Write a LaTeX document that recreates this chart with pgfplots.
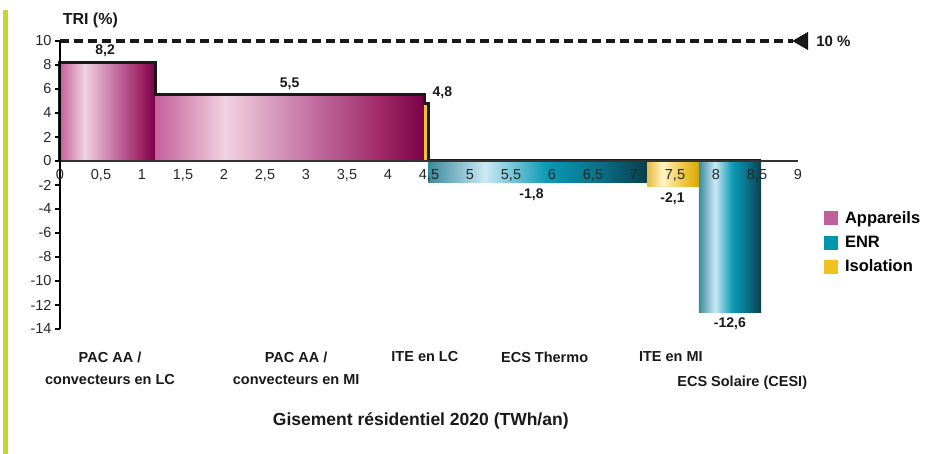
\documentclass[border=0pt]{standalone}
\usepackage{pgfplots}
\pgfplotsset{compat=1.18}
\usepackage{fontspec}
\setmainfont{Liberation Sans}

\definecolor{appA}{HTML}{C4609A}
\definecolor{appL}{HTML}{F2D2E0}
\definecolor{appM}{HTML}{C06A9E}
\definecolor{appN}{HTML}{A02868}
\definecolor{appD}{HTML}{7A0048}
\definecolor{enrA}{HTML}{3A8A9C}
\definecolor{enrL}{HTML}{CCE9F5}
\definecolor{enrM}{HTML}{0A9AB4}
\definecolor{enrN}{HTML}{0A7088}
\definecolor{enrD}{HTML}{0A3E4C}
\definecolor{isoA}{HTML}{E6BC3C}
\definecolor{isoL}{HTML}{FFF4C4}
\definecolor{isoM}{HTML}{F0CC50}
\definecolor{isoD}{HTML}{DCA800}
\definecolor{appC}{HTML}{C0609A}
\definecolor{enrC}{HTML}{0096B0}
\definecolor{isoC}{HTML}{F2C320}
\definecolor{sidegreen}{HTML}{C0D832}

\pgfdeclarehorizontalshading{appshade}{100bp}{color(0bp)=(appA); color(25bp)=(appA); color(38bp)=(appL); color(55bp)=(appM); color(67bp)=(appN); color(75bp)=(appD); color(100bp)=(appD)}
\pgfdeclarehorizontalshading{enrshade}{100bp}{color(0bp)=(enrA); color(25bp)=(enrA); color(38bp)=(enrL); color(52bp)=(enrM); color(64bp)=(enrN); color(75bp)=(enrD); color(100bp)=(enrD)}
\pgfdeclarehorizontalshading{isoshade}{100bp}{color(0bp)=(isoA); color(25bp)=(isoA); color(40bp)=(isoL); color(57bp)=(isoM); color(75bp)=(isoD); color(100bp)=(isoD)}

\begin{document}
\begin{tikzpicture}
\fill[sidegreen] (3pt,0pt) rectangle (8pt,444pt);
\begin{axis}[
    name=ax, at={(60pt,125pt)}, anchor=south west,
    scale only axis, width=738pt, height=288pt,
    xmin=0, xmax=9, ymin=-14, ymax=10,
    clip=false, axis on top,
    axis x line=middle, axis y line=left,
    hide obscured x ticks=false,
    x axis line style={draw=black!80, line width=1.2pt, -},
    y axis line style={draw=black, line width=2pt, -},
    xtick={0,0.5,1,1.5,2,2.5,3,3.5,4,4.5,5,5.5,6,6.5,7,7.5,8,8.5,9},
    xticklabels={0,{0,5},1,{1,5},2,{2,5},3,{3,5},4,{4,5},5,{5,5},6,{6,5},7,{7,5},8,{8,5},9},
    xtick style={draw=none},
    ytick={-14,-12,-10,-8,-6,-4,-2,0,2,4,6,8,10},
    yticklabels={-14,-12,-10,-8,-6,-4,-2,0,2,4,6,8,10},
    ytick style={draw=black, line width=1.2pt},
    tick align=outside, major tick length=5pt,
    ticklabel style={font=\fontsize{14.5}{16}\selectfont, text=black!85},
    legend style={at={(1.035,0.415)}, anchor=north west, draw=none, fill=none,
        font=\fontsize{16.5}{19}\selectfont\bfseries, row sep=7pt,
        inner sep=0pt, nodes={inner xsep=7pt}},
    legend cell align=left,
    legend image code/.code={\fill[#1, draw=none] (0pt,-7pt) rectangle (14pt,7pt);},
]
% bars: x start, x end, TRI
\addplot[forget plot, draw=none, shade, shading=appshade] coordinates {(0,0) (0,8.2) (1.16,8.2) (1.16,0)} -- cycle;
\addplot[forget plot, draw=none, shade, shading=appshade] coordinates {(1.16,0) (1.16,5.5) (4.44,5.5) (4.44,0)} -- cycle;
\addplot[forget plot, draw=none, fill=isoC] coordinates {(4.44,0) (4.44,4.8) (4.49,4.8) (4.49,0)} -- cycle;
\addplot[forget plot, draw=none, shade, shading=enrshade] coordinates {(4.49,0) (4.49,-1.8) (7.16,-1.8) (7.16,0)} -- cycle;
\addplot[forget plot, draw=none, shade, shading=isoshade] coordinates {(7.16,0) (7.16,-2.1) (7.79,-2.1) (7.79,0)} -- cycle;
\addplot[forget plot, draw=none, shade, shading=enrshade] coordinates {(7.79,0) (7.79,-12.6) (8.55,-12.6) (8.55,0)} -- cycle;

% step outline
\addplot[forget plot, line width=3pt, black!90, line join=miter] coordinates {
(0,0) (0,8.2) (1.16,8.2) (1.16,5.5) (4.44,5.5) (4.44,4.8) (4.49,4.8) (4.49,0) (8.55,0)};

% 10 % threshold
\addplot[forget plot, line width=3.5pt, black!90, dash pattern=on 9pt off 5pt] coordinates {(0,10) (8.94,10)};
\addplot[forget plot, only marks, mark=triangle*, mark size=10pt, mark options={rotate=90, fill=black!90, draw=none}] coordinates {(9.06,10)};

\addlegendimage{fill=appC}
\addlegendentry{Appareils}
\addlegendimage{fill=enrC}
\addlegendentry{ENR}
\addlegendimage{fill=isoC}
\addlegendentry{Isolation}

\begin{scope}[every node/.style={font=\fontsize{14}{16}\selectfont\bfseries, text=black!90}]
\node[anchor=south, yshift=2pt] at (axis cs:0.55,8.2) {8,2};
\node[anchor=south, yshift=2pt] at (axis cs:2.8,5.5) {5,5};
\node[anchor=south west, xshift=1pt, yshift=1pt] at (axis cs:4.49,4.8) {4,8};
\node[anchor=north, yshift=-3pt] at (axis cs:5.75,-1.8) {-1,8};
\node[anchor=north, yshift=-3pt] at (axis cs:7.47,-2.1) {-2,1};
\node[anchor=north, yshift=-2pt] at (axis cs:8.17,-12.6) {-12,6};
\end{scope}

\node[font=\fontsize{16}{18}\selectfont\bfseries, text=black!90] at (axis cs:0.37,11.75) {TRI (\%)};
\node[anchor=west, font=\fontsize{15}{18}\selectfont\bfseries, text=black!90] at (axis cs:9.18,10) {10 \%};

\begin{scope}[every node/.style={font=\fontsize{14.5}{22}\selectfont\bfseries, text=black!90, align=center}]
\node at (axis cs:0.61,-17.3) {PAC AA /\\convecteurs en LC};
\node at (axis cs:2.88,-17.3) {PAC AA /\\convecteurs en MI};
\node at (axis cs:4.45,-16.33) {ITE en LC};
\node at (axis cs:5.91,-16.33) {ECS Thermo};
\node at (axis cs:7.45,-16.33) {ITE en MI};
\node at (axis cs:8.32,-18.5) {ECS Solaire (CESI)};
\end{scope}
\node[font=\fontsize{17.5}{20}\selectfont\bfseries, text=black!90] at (axis cs:4.4,-21.67) {Gisement résidentiel 2020 (TWh/an)};
\end{axis}
\pgfresetboundingbox
\path[use as bounding box] (0pt,0pt) rectangle (930pt,454pt);
\end{tikzpicture}
\end{document}
